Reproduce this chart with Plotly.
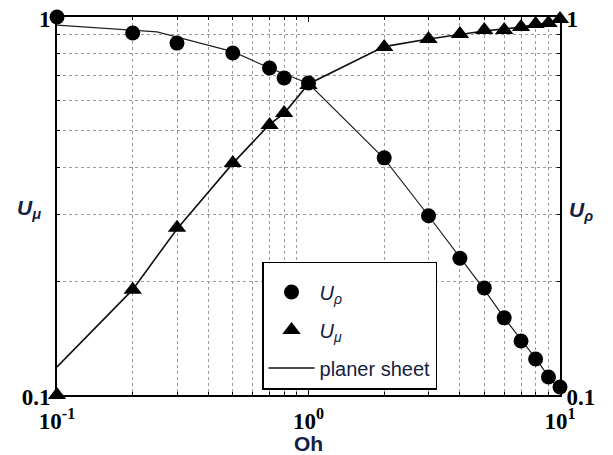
import plotly.graph_objects as go

# Data
oh = [0.1, 0.2, 0.3, 0.5, 0.7, 0.8, 1.0, 2, 3, 4, 5, 6, 7, 8, 9, 10]
u_rho = [1.0, 0.907, 0.853, 0.803, 0.733, 0.69, 0.669, 0.424, 0.298, 0.23, 0.192, 0.16, 0.139, 0.1245, 0.1116, 0.105]
u_mu = [0.1, 0.19, 0.277, 0.411, 0.518, 0.557, 0.661, 0.833, 0.874, 0.902, 0.924, 0.924, 0.941, 0.958, 0.964, 0.988]

sheet_x_rho = [0.1, 0.25, 0.5, 0.7, 1.0, 2, 3, 4, 5, 6, 7, 8, 9, 10]
sheet_rho = [0.952, 0.913, 0.81, 0.733, 0.667, 0.422, 0.298, 0.232, 0.19, 0.16, 0.14, 0.125, 0.112, 0.103]
sheet_x_mu = [0.1, 0.2, 0.3, 0.5, 0.7, 0.8, 1.0, 2, 3, 4, 5, 6, 7, 8, 9, 10]
sheet_mu = [0.1186, 0.19, 0.275, 0.41, 0.52, 0.556, 0.665, 0.835, 0.875, 0.9, 0.918, 0.93, 0.94, 0.955, 0.965, 0.98]

x_ticks = [0.1, 1, 10]
x_ticktext = ["10<sup>-1</sup>", "10<sup>0</sup>", "10<sup>1</sup>"]
y_ticks = [0.1, 1]
y_ticktext = ["0.1", "1"]
x_minor = [m * d for d in (0.1, 1) for m in range(2, 10)]
y_minor = [m * 0.1 for m in range(2, 10)]

navy = "#14203f"

fig = go.Figure()
fig.add_trace(go.Scatter(x=sheet_x_rho, y=sheet_rho, mode="lines", yaxis="y2",
                         line=dict(color="#222", width=1.2), showlegend=False,
                         legendgroup="c"))
fig.add_trace(go.Scatter(x=sheet_x_mu, y=sheet_mu, mode="lines",
                         line=dict(color="#111", width=1.6),
                         name="planer sheet",
                         legendgroup="c", legendrank=3))
fig.add_trace(go.Scatter(x=oh, y=u_rho, mode="markers", yaxis="y2", cliponaxis=False,
                         marker=dict(symbol="circle", size=15, color="black"),
                         name="<i>U<sub>ρ</sub></i>", legendgroup="a", legendrank=1))
fig.add_trace(go.Scatter(x=oh, y=u_mu, mode="markers", cliponaxis=False,
                         marker=dict(symbol="triangle-up", size=16, color="black"),
                         name="<i>U<sub>μ</sub></i>", legendgroup="b", legendrank=2))

tickfont = dict(family="Liberation Serif", size=23, color="black", weight="bold")
common_minor = dict(showgrid=True, griddash="dot", gridcolor="#999999", gridwidth=1,
                    ticks="inside", ticklen=3, tickcolor="black")

fig.update_layout(
    width=605, height=447,
    margin=dict(l=49, r=53, t=9, b=60, autoexpand=False),
    plot_bgcolor="white", paper_bgcolor="white",
    showlegend=True,
    legend=dict(x=0.4076, y=0.352, xanchor="left", yanchor="top",
                bordercolor="black", borderwidth=1.5, bgcolor="white",
                font=dict(family="Liberation Sans", size=20, color=navy),
                title=dict(text="&nbsp;", font=dict(size=7)),
                tracegroupgap=9, traceorder="grouped", itemwidth=46),
    xaxis=dict(type="log", range=[-1, 1], tickvals=x_ticks, ticktext=x_ticktext,
               tickfont=tickfont, showline=True, linecolor="black", linewidth=2,
               mirror="ticks", ticks="inside", ticklen=5, tickcolor="black",
               showgrid=False, zeroline=False, automargin=False,
               ticklabelstandoff=4, ticklabeloverflow="allow",
               minor=dict(tickvals=x_minor, **common_minor)),
    yaxis=dict(type="log", range=[-1, 0], tickvals=y_ticks, ticktext=y_ticktext,
               tickfont=tickfont, showline=True, linecolor="black", linewidth=2,
               ticks="inside", ticklen=5, tickcolor="black", showgrid=False,
               zeroline=False, automargin=False, ticklabeloverflow="allow",
               ticklabelshift=2,
               minor=dict(tickvals=y_minor, **common_minor)),
    yaxis2=dict(type="log", range=[-1, 0], tickvals=y_ticks, ticktext=y_ticktext,
                tickfont=tickfont, overlaying="y", side="right", showline=True,
                linecolor="black", linewidth=2, ticks="inside", ticklen=5,
                tickcolor="black", showgrid=False, zeroline=False, automargin=False,
                ticklabeloverflow="allow", ticklabelshift=2,
                minor=dict(tickvals=y_minor, ticks="inside", ticklen=3, tickcolor="black")),
    annotations=[
        dict(text="<b><i>U<sub>μ</sub></i></b>", xref="paper", yref="paper",
             x=-0.028, y=0.492, xanchor="right", yanchor="middle", showarrow=False,
             font=dict(family="Liberation Sans", size=21, color=navy)),
        dict(text="<b><i>U<sub>ρ</sub></i></b>", xref="paper", yref="paper",
             x=1.014, y=0.487, xanchor="left", yanchor="middle", showarrow=False,
             font=dict(family="Liberation Sans", size=21, color=navy)),
        dict(text="<b>Oh</b>", xref="paper", yref="paper",
             x=0.5, y=-0.127, xanchor="center", yanchor="middle", showarrow=False,
             font=dict(family="Liberation Sans", size=21, color=navy)),
    ],
)

fig.write_html("out.html")
